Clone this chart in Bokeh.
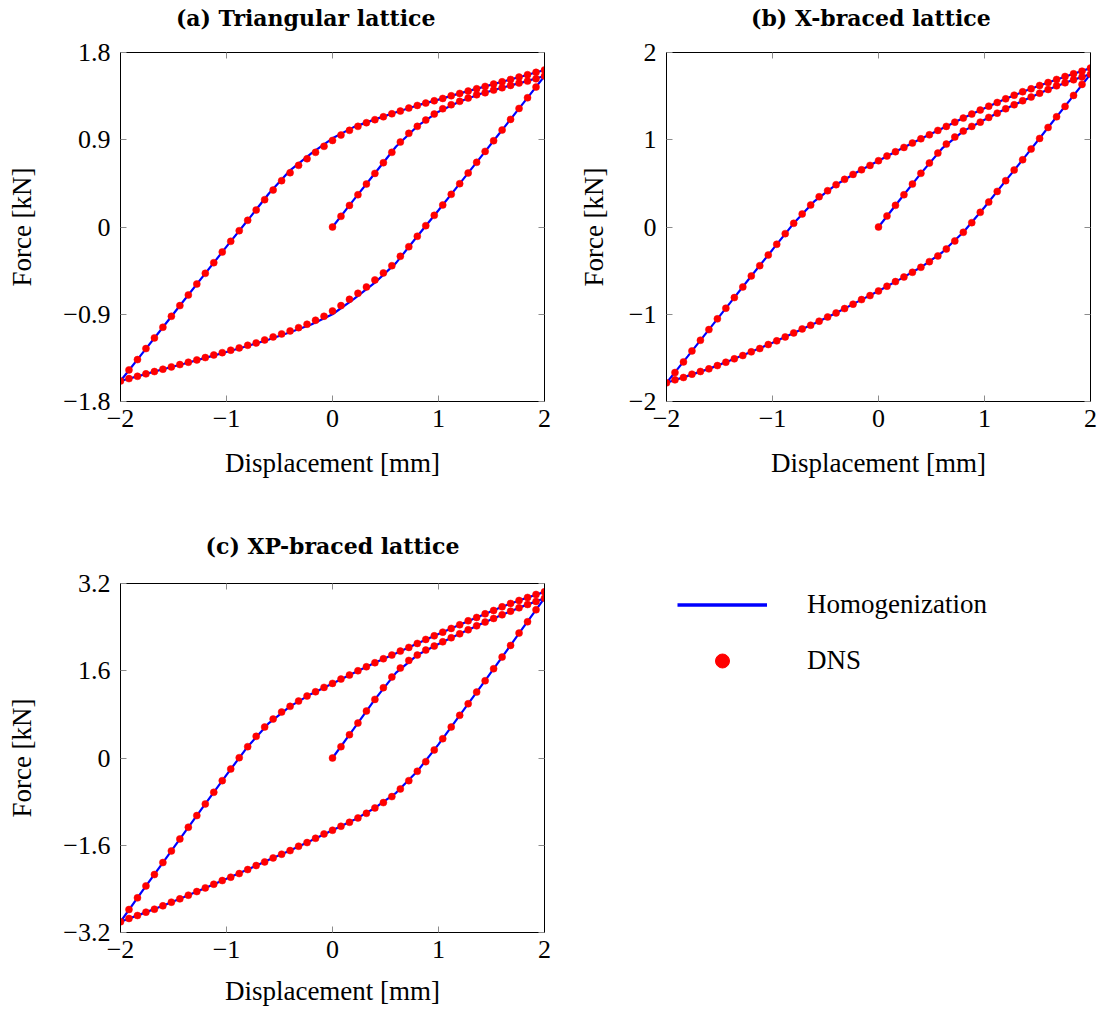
from bokeh.plotting import figure
from bokeh.models import Range1d, FixedTicker, LinearAxis, Legend, LegendItem
from bokeh.layouts import column, row
from bokeh.embed import file_html
from bokeh.resources import INLINE

FONT = "Liberation Serif"
TFONT = "DejaVu Serif"

# ---------------- data ----------------
# DNS displacement steps (mm)
disp_load = [0.00, 0.08, 0.16, 0.24, 0.32, 0.40, 0.48, 0.56, 0.64, 0.72, 0.80, 0.88, 0.96,
             1.04, 1.12, 1.20, 1.28, 1.36, 1.44, 1.52, 1.60, 1.68, 1.76, 1.84, 1.92, 2.00]
disp_unload = [2.00, 1.92, 1.84, 1.76, 1.68, 1.60, 1.52, 1.44, 1.36, 1.28, 1.20, 1.12, 1.04,
               0.96, 0.88, 0.80, 0.72, 0.64, 0.56, 0.48, 0.40, 0.32, 0.24, 0.16, 0.08, 0.00,
               -0.08, -0.16, -0.24, -0.32, -0.40, -0.48, -0.56, -0.64, -0.72, -0.80, -0.88, -0.96,
               -1.04, -1.12, -1.20, -1.28, -1.36, -1.44, -1.52, -1.60, -1.68, -1.76, -1.84, -1.92, -2.00]
disp_reload = [-2.00, -1.92, -1.84, -1.76, -1.68, -1.60, -1.52, -1.44, -1.36, -1.28, -1.20, -1.12, -1.04,
               -0.96, -0.88, -0.80, -0.72, -0.64, -0.56, -0.48, -0.40, -0.32, -0.24, -0.16, -0.08, 0.00,
               0.08, 0.16, 0.24, 0.32, 0.40, 0.48, 0.56, 0.64, 0.72, 0.80, 0.88, 0.96,
               1.04, 1.12, 1.20, 1.28, 1.36, 1.44, 1.52, 1.60, 1.68, 1.76, 1.84, 1.92, 2.00]

# Homogenization displacement steps (mm)
hom_disp_load = [0.0, 0.2, 0.4, 0.6, 0.8, 1.0, 1.2, 1.4, 1.6, 1.8, 2.0]
hom_disp_unload = [2.0, 1.8, 1.6, 1.4, 1.2, 1.0, 0.8, 0.6, 0.4, 0.2, 0.0,
                   -0.2, -0.4, -0.6, -0.8, -1.0, -1.2, -1.4, -1.6, -1.8, -2.0]
hom_disp_reload = [-2.0, -1.8, -1.6, -1.4, -1.2, -1.0, -0.8, -0.6, -0.4, -0.2, 0.0,
                   0.2, 0.4, 0.6, 0.8, 1.0, 1.2, 1.4, 1.6, 1.8, 2.0]

# (a) Triangular lattice, force (kN)
dns_a_load = [0, 0.11, 0.223, 0.333, 0.443, 0.553, 0.663, 0.77, 0.876, 0.966, 1.038, 1.103, 1.165,
              1.22, 1.261, 1.296, 1.33, 1.364, 1.385, 1.412, 1.436, 1.46, 1.485, 1.505, 1.529, 1.557]
dns_a_unload = [1.557, 1.443, 1.333, 1.223, 1.11, 1.0, 0.89, 0.78, 0.667, 0.557, 0.447, 0.337, 0.227,
                0.12, 0.014, -0.096, -0.203, -0.302, -0.399, -0.474, -0.546, -0.619, -0.684, -0.746,
                -0.811, -0.866, -0.921, -0.962, -1.003, -1.038, -1.072, -1.103, -1.134, -1.165, -1.196,
                -1.22, -1.247, -1.271, -1.296, -1.32, -1.347, -1.371, -1.395, -1.419, -1.443, -1.467,
                -1.491, -1.515, -1.54, -1.564, -1.588]
dns_a_reload = [-1.588, -1.474, -1.368, -1.254, -1.144, -1.034, -0.921, -0.811, -0.701, -0.588, -0.478,
                -0.368, -0.258, -0.148, -0.038, 0.069, 0.175, 0.282, 0.381, 0.478, 0.56, 0.636, 0.704,
                0.77, 0.832, 0.893, 0.948, 0.997, 1.038, 1.076, 1.107, 1.137, 1.168, 1.196, 1.227, 1.254,
                1.278, 1.302, 1.326, 1.354, 1.378, 1.402, 1.426, 1.45, 1.474, 1.498, 1.522, 1.546, 1.571,
                1.595, 1.619]
hom_a_load = [0, 0.28, 0.555, 0.83, 1.04, 1.19, 1.295, 1.375, 1.436, 1.495, 1.557]
hom_a_unload = [1.557, 1.278, 1.0, 0.723, 0.447, 0.173, -0.096, -0.37, -0.575, -0.745, -0.9,
                -1.005, -1.085, -1.16, -1.228, -1.29, -1.35, -1.41, -1.467, -1.528, -1.588]
hom_a_reload = [-1.588, -1.311, -1.034, -0.756, -0.478, -0.203, 0.069, 0.345, 0.585, 0.76, 0.915,
                1.03, 1.11, 1.183, 1.254, 1.314, 1.378, 1.438, 1.498, 1.558, 1.619]

# (b) X-braced lattice, force (kN)
dns_b_load = [0, 0.126, 0.248, 0.37, 0.492, 0.615, 0.733, 0.847, 0.95, 1.031, 1.099, 1.153, 1.202,
              1.256, 1.305, 1.355, 1.401, 1.447, 1.489, 1.534, 1.576, 1.618, 1.653, 1.687, 1.718, 1.752]
dns_b_unload = [1.752, 1.634, 1.508, 1.382, 1.263, 1.141, 1.015, 0.893, 0.771, 0.653, 0.531, 0.408,
                0.286, 0.168, 0.05, -0.061, -0.16, -0.252, -0.332, -0.397, -0.462, -0.519, -0.573,
                -0.626, -0.679, -0.733, -0.786, -0.832, -0.885, -0.935, -0.985, -1.031, -1.08, -1.126,
                -1.168, -1.214, -1.26, -1.305, -1.347, -1.393, -1.431, -1.473, -1.511, -1.55, -1.588,
                -1.626, -1.656, -1.687, -1.725, -1.752, -1.786]
dns_b_reload = [-1.786, -1.668, -1.546, -1.42, -1.298, -1.176, -1.053, -0.931, -0.809, -0.687, -0.561,
                -0.443, -0.321, -0.198, -0.076, 0.042, 0.149, 0.252, 0.347, 0.416, 0.485, 0.546, 0.603,
                0.656, 0.706, 0.76, 0.813, 0.863, 0.912, 0.962, 1.011, 1.057, 1.107, 1.153, 1.202, 1.248,
                1.294, 1.34, 1.385, 1.427, 1.469, 1.511, 1.55, 1.584, 1.622, 1.656, 1.691, 1.725, 1.756,
                1.786, 1.821]
hom_b_load = [0, 0.31, 0.615, 0.9, 1.099, 1.23, 1.355, 1.468, 1.576, 1.67, 1.752]
hom_b_unload = [1.752, 1.445, 1.141, 0.832, 0.531, 0.227, -0.061, -0.292, -0.462, -0.6, -0.733,
                -0.858, -0.985, -1.103, -1.214, -1.326, -1.431, -1.53, -1.626, -1.706, -1.786]
hom_b_reload = [-1.786, -1.483, -1.176, -0.87, -0.561, -0.26, 0.042, 0.3, 0.485, 0.63, 0.76,
                0.888, 1.011, 1.13, 1.248, 1.362, 1.469, 1.567, 1.656, 1.74, 1.821]

# (c) XP-braced lattice, force (kN)
dns_c_load = [0, 0.208, 0.427, 0.641, 0.861, 1.075, 1.289, 1.484, 1.649, 1.789, 1.887, 1.979, 2.052,
              2.131, 2.205, 2.278, 2.351, 2.424, 2.492, 2.559, 2.626, 2.693, 2.754, 2.815, 2.87, 2.931]
dns_c_unload = [2.931, 2.718, 2.498, 2.29, 2.064, 1.85, 1.637, 1.417, 1.209, 0.995, 0.782, 0.568,
                0.354, 0.147, -0.067, -0.244, -0.415, -0.568, -0.708, -0.818, -0.916, -1.014, -1.099,
                -1.179, -1.252, -1.325, -1.392, -1.472, -1.551, -1.618, -1.698, -1.765, -1.832, -1.905,
                -1.972, -2.046, -2.119, -2.186, -2.247, -2.315, -2.382, -2.449, -2.516, -2.583, -2.644,
                -2.711, -2.773, -2.827, -2.888, -2.943, -3.004]
dns_c_reload = [-3.004, -2.779, -2.565, -2.345, -2.137, -1.917, -1.704, -1.484, -1.27, -1.056, -0.843,
                -0.629, -0.415, -0.202, 0.006, 0.208, 0.397, 0.568, 0.714, 0.843, 0.947, 1.044, 1.136,
                1.215, 1.295, 1.368, 1.447, 1.521, 1.6, 1.673, 1.747, 1.82, 1.887, 1.96, 2.028, 2.101,
                2.174, 2.241, 2.308, 2.376, 2.443, 2.516, 2.577, 2.644, 2.705, 2.773, 2.834, 2.889,
                2.944, 2.999, 3.047]
hom_c_load = [0, 0.534, 1.075, 1.565, 1.887, 2.09, 2.278, 2.458, 2.626, 2.785, 2.931]
hom_c_unload = [2.931, 2.394, 1.85, 1.313, 0.782, 0.25, -0.244, -0.638, -0.916, -1.139, -1.325,
                -1.512, -1.698, -1.868, -2.046, -2.216, -2.382, -2.55, -2.711, -2.858, -3.004]
hom_c_reload = [-3.004, -2.455, -1.917, -1.377, -0.843, -0.308, 0.208, 0.64, 0.947, 1.175, 1.368,
                1.56, 1.747, 1.923, 2.101, 2.275, 2.443, 2.61, 2.773, 2.917, 3.047]

# ticks
x_ticks = [-2.0, -1.0, 0.0, 1.0, 2.0]
x_tick_labels = ["\u22122", "\u22121", "0", "1", "2"]
y_ticks_a = [-1.8, -0.9, 0.0, 0.9, 1.8]
y_tick_labels_a = ["\u22121.8", "\u22120.9", "0", "0.9", "1.8"]
y_ticks_b = [-2.0, -1.0, 0.0, 1.0, 2.0]
y_tick_labels_b = ["\u22122", "\u22121", "0", "1", "2"]
y_ticks_c = [-3.2, -1.6, 0.0, 1.6, 3.2]
y_tick_labels_c = ["\u22123.2", "\u22121.6", "0", "1.6", "3.2"]

titles = ["(a) Triangular lattice", "(b) X-braced lattice", "(c) XP-braced lattice"]
x_label = "Displacement [mm]"
y_label = "Force [kN]"
legend_labels = ["Homogenization", "DNS"]

BLUE = "#0000ff"
RED = "#ff0000"
TICK = "#8c8c8c"
FW, FH = 424, 349
NBSP = "\u00a0"


def style_axis(ax, ticks, labels, standoff):
    ax.ticker = FixedTicker(ticks=ticks)
    ax.major_label_overrides = dict(zip(ticks, labels))
    ax.major_tick_in = 6
    ax.major_tick_out = 0
    ax.major_tick_line_color = TICK
    ax.minor_tick_line_color = None
    ax.axis_line_color = "black"
    ax.major_label_text_font = FONT
    ax.major_label_text_font_size = "26px"
    ax.major_label_text_color = "black"
    ax.major_label_standoff = standoff


def hidden_axis(ticks):
    return LinearAxis(ticker=FixedTicker(ticks=ticks), major_label_text_font_size="1px",
                      major_label_text_color=None, major_label_standoff=0,
                      major_tick_in=6, major_tick_out=0,
                      major_tick_line_color=TICK, minor_tick_line_color=None,
                      axis_line_color="black")


def panel(title, y_ticks, y_labels, dns, hom, borders, ylab_standoff, xlab_standoff,
          title_pad, title_standoff):
    left, right, top, bottom = borders
    ylim = y_ticks[-1]
    p = figure(frame_width=FW, frame_height=FH, output_backend="svg", toolbar_location=None,
               x_range=Range1d(x_ticks[0], x_ticks[-1]), y_range=Range1d(-ylim, ylim),
               min_border_left=left, min_border_right=right, min_border_top=top,
               min_border_bottom=bottom)
    p.grid.visible = False
    p.outline_line_color = "black"
    p.outline_line_width = 1

    style_axis(p.xaxis[0], x_ticks, x_tick_labels, 8)
    style_axis(p.yaxis[0], y_ticks, y_labels, 10)
    p.xaxis.axis_label = x_label
    p.yaxis.axis_label = y_label
    for ax, so in ((p.xaxis[0], xlab_standoff), (p.yaxis[0], ylab_standoff)):
        ax.axis_label_text_font = FONT
        ax.axis_label_text_font_size = "27px"
        ax.axis_label_text_font_style = "normal"
        ax.axis_label_text_color = "black"
        ax.axis_label_standoff = so

    # top axis: inner ticks only, carries the panel title as its label
    top_ax = hidden_axis(x_ticks)
    top_ax.axis_label = title + NBSP * title_pad
    top_ax.axis_label_standoff = title_standoff
    top_ax.axis_label_text_font = TFONT
    top_ax.axis_label_text_font_size = "22px"
    top_ax.axis_label_text_font_style = "bold"
    top_ax.axis_label_text_color = "black"
    p.add_layout(top_ax, "above")
    p.add_layout(hidden_axis(y_ticks), "right")

    hx = hom_disp_load + hom_disp_unload[1:] + hom_disp_reload[1:]
    hy = hom[0] + hom[1][1:] + hom[2][1:]
    dx = disp_load + disp_unload[1:] + disp_reload[1:]
    dy = dns[0] + dns[1][1:] + dns[2][1:]
    p.line(hx, hy, line_color=BLUE, line_width=2.2)
    p.scatter(dx, dy, marker="circle", size=7, fill_color=RED, line_color=RED, line_width=0.5)
    return p


fa = panel(titles[0], y_ticks_a, y_tick_labels_a, (dns_a_load, dns_a_unload, dns_a_reload),
           (hom_a_load, hom_a_unload, hom_a_reload), (120, 29, 52, 83), 23, 18, 7, 22)
fb = panel(titles[1], y_ticks_b, y_tick_labels_b, (dns_b_load, dns_b_unload, dns_b_reload),
           (hom_b_load, hom_b_unload, hom_b_reload), (93, 7, 52, 83), 17, 18, 2, 22)
fc = panel(titles[2], y_ticks_c, y_tick_labels_c, (dns_c_load, dns_c_unload, dns_c_reload),
           (hom_c_load, hom_c_unload, hom_c_reload), (120, 29, 99, 80), 23, 15, 0, 25)

# legend panel (legend glyph renderers lie outside the visible range of this panel)
fl = figure(frame_width=FW, frame_height=FH, output_backend="svg", toolbar_location=None,
            x_range=Range1d(100, 101), y_range=Range1d(100, 101),
            min_border_left=93, min_border_right=7, min_border_top=99, min_border_bottom=80,
            x_axis_location=None, y_axis_location=None)
fl.grid.visible = False
fl.outline_line_color = None
r_line = fl.line(hom_disp_load, hom_a_load, line_color=BLUE, line_width=3.5)
r_dot = fl.scatter(disp_load, dns_a_load, marker="circle", size=14, fill_color=RED, line_color=RED)
legend = Legend(items=[LegendItem(label=legend_labels[0], renderers=[r_line]),
                       LegendItem(label=legend_labels[1], renderers=[r_dot])],
                location=(11, 254), glyph_width=90, glyph_height=35, label_standoff=40,
                spacing=21, padding=0, margin=0, border_line_color=None,
                background_fill_alpha=0, label_text_font=FONT, label_text_font_size="27px",
                label_text_color="black", label_height=35)
fl.add_layout(legend)

layout = column(row(fa, fb), row(fc, fl))
open("out.html", "w").write(file_html(layout, INLINE))
